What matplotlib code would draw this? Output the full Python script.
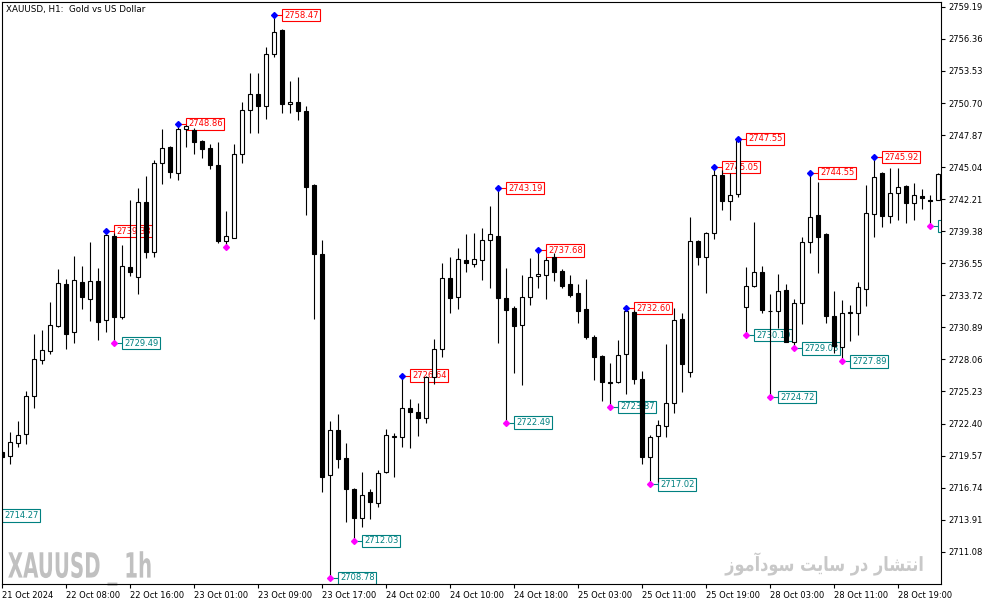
import matplotlib
matplotlib.use("Agg")
import matplotlib.pyplot as plt
import matplotlib.patheffects as pe
from matplotlib.transforms import Affine2D
import numpy as np

# XAUUSD H1 candles (open, high, low, close)
opens = [2719.92, 2719.51, 2720.66, 2721.45, 2724.81, 2727.99, 2728.78, 2730.99, 2734.72, 2730.51,
         2734.90, 2733.43, 2734.99, 2731.52, 2738.96, 2731.84, 2736.22, 2735.31, 2741.94, 2737.52,
         2745.43, 2746.82, 2744.55, 2748.40, 2748.32, 2747.35, 2746.73, 2745.26, 2738.52, 2738.81,
         2746.23, 2750.06, 2751.47, 2750.47, 2755.01, 2757.15, 2750.59, 2750.77, 2750.00, 2743.46,
         2737.35, 2717.83, 2721.80, 2719.33, 2716.62, 2714.03, 2716.33, 2715.36, 2718.10, 2721.23,
         2721.19, 2723.75, 2723.39, 2722.86, 2726.48, 2728.96, 2735.23, 2733.60, 2736.84, 2736.52,
         2736.82, 2738.58, 2738.96, 2733.49, 2732.63, 2731.13, 2733.55, 2735.40, 2735.49, 2737.13,
         2735.87, 2734.70, 2733.90, 2732.49, 2730.02, 2728.37, 2726.07, 2726.04, 2728.51, 2732.22,
         2726.33, 2719.42, 2721.27, 2722.21, 2724.19, 2731.63, 2726.93, 2738.52, 2737.08, 2739.20,
         2744.35, 2742.08, 2742.64, 2732.72, 2734.52, 2735.76, 2732.37, 2732.34, 2734.19, 2729.63,
         2733.02, 2738.46, 2740.82, 2739.14, 2731.90, 2729.19, 2732.16, 2732.19, 2734.25, 2740.88,
         2744.50, 2740.75, 2742.73, 2743.38, 2741.85, 2742.47, 2742.14, 2742.14]
highs = [2720.07, 2721.63, 2722.63, 2725.25, 2730.28, 2730.66, 2733.13, 2736.05, 2735.16, 2737.20,
         2736.31, 2738.43, 2736.14, 2739.38, 2739.25, 2738.17, 2742.14, 2743.23, 2744.26, 2745.67,
         2748.38, 2746.91, 2748.86, 2748.75, 2748.50, 2747.44, 2747.09, 2747.26, 2741.20, 2747.09,
         2750.77, 2753.38, 2753.33, 2755.68, 2758.47, 2757.24, 2752.65, 2752.97, 2750.44, 2743.55,
         2738.61, 2722.63, 2723.24, 2720.68, 2716.71, 2718.12, 2716.65, 2718.30, 2721.89, 2721.54,
         2726.64, 2724.54, 2724.19, 2726.60, 2729.84, 2736.60, 2737.08, 2737.88, 2739.14, 2739.25,
         2739.64, 2741.61, 2743.19, 2736.11, 2732.74, 2735.49, 2736.99, 2737.68, 2737.08, 2737.43,
         2736.05, 2735.49, 2734.72, 2735.19, 2730.22, 2728.45, 2727.72, 2729.78, 2732.60, 2732.40,
         2727.04, 2721.39, 2722.71, 2729.43, 2732.58, 2732.14, 2740.64, 2738.61, 2739.34, 2745.05,
         2744.79, 2744.50, 2747.55, 2736.20, 2740.20, 2736.31, 2733.81, 2735.61, 2734.72, 2733.40,
         2738.90, 2744.55, 2743.70, 2739.23, 2734.11, 2733.28, 2732.84, 2734.93, 2743.46, 2745.92,
         2744.61, 2744.94, 2744.94, 2743.46, 2743.62, 2743.09, 2742.58, 2744.48]
lows = [2719.36, 2718.86, 2720.36, 2720.62, 2723.80, 2727.69, 2728.57, 2730.93, 2729.01, 2729.54,
        2732.54, 2731.48, 2729.80, 2730.46, 2729.49, 2731.61, 2735.43, 2733.81, 2737.02, 2737.13,
        2743.58, 2744.11, 2743.88, 2746.82, 2746.18, 2745.82, 2744.85, 2738.34, 2737.96, 2738.74,
        2745.43, 2748.08, 2748.08, 2749.27, 2754.74, 2749.80, 2749.80, 2749.20, 2740.82, 2731.66,
        2716.38, 2708.78, 2718.50, 2713.73, 2712.03, 2713.24, 2714.00, 2715.06, 2718.01, 2717.71,
        2720.36, 2720.21, 2721.33, 2722.45, 2725.89, 2728.30, 2732.14, 2732.49, 2735.81, 2736.25,
        2735.08, 2734.40, 2729.54, 2722.49, 2726.89, 2725.80, 2732.90, 2734.40, 2733.43, 2734.99,
        2734.37, 2733.58, 2731.31, 2729.84, 2726.25, 2724.42, 2723.87, 2725.98, 2724.98, 2725.87,
        2718.80, 2717.02, 2717.24, 2721.24, 2723.31, 2725.21, 2726.54, 2736.40, 2733.95, 2738.70,
        2741.26, 2740.37, 2742.43, 2730.19, 2734.48, 2732.19, 2724.72, 2730.81, 2729.57, 2729.03,
        2731.16, 2737.49, 2735.72, 2731.25, 2728.60, 2727.89, 2729.72, 2730.22, 2732.81, 2738.90,
        2739.78, 2740.14, 2740.37, 2740.14, 2740.37, 2741.32, 2739.85, 2742.10]
closes = [2719.47, 2720.75, 2721.36, 2724.81, 2728.07, 2728.87, 2731.08, 2734.78, 2730.33, 2735.05,
          2733.60, 2734.99, 2731.39, 2739.05, 2731.84, 2736.29, 2735.78, 2741.94, 2737.52, 2745.38,
          2746.71, 2744.64, 2748.38, 2748.70, 2747.29, 2746.62, 2745.26, 2738.55, 2738.94, 2746.20,
          2750.06, 2751.47, 2750.47, 2755.03, 2756.95, 2750.64, 2750.77, 2750.03, 2743.31, 2737.35,
          2717.71, 2721.80, 2719.30, 2716.65, 2714.03, 2716.07, 2715.50, 2718.01, 2721.36, 2721.30,
          2723.75, 2723.39, 2722.86, 2726.50, 2728.96, 2735.23, 2733.51, 2736.90, 2736.55, 2736.90,
          2738.58, 2739.11, 2733.51, 2732.40, 2731.04, 2733.55, 2735.31, 2735.58, 2736.82, 2735.81,
          2734.57, 2733.75, 2732.37, 2730.02, 2728.30, 2726.04, 2726.02, 2728.43, 2732.34, 2726.33,
          2719.42, 2721.19, 2722.25, 2724.19, 2731.54, 2727.63, 2738.49, 2737.13, 2739.20, 2744.35,
          2742.08, 2742.55, 2747.44, 2734.52, 2735.81, 2732.43, 2732.31, 2734.13, 2729.63, 2733.02,
          2738.40, 2740.61, 2738.90, 2731.92, 2729.25, 2732.14, 2732.22, 2734.43, 2740.97, 2744.20,
          2740.75, 2742.73, 2743.31, 2741.85, 2742.55, 2742.29, 2742.05, 2744.44]

time_labels = ["21 Oct 2024", "22 Oct 08:00", "22 Oct 16:00", "23 Oct 01:00", "23 Oct 09:00",
               "23 Oct 17:00", "24 Oct 02:00", "24 Oct 10:00", "24 Oct 18:00", "25 Oct 03:00",
               "25 Oct 11:00", "25 Oct 19:00", "28 Oct 03:00", "28 Oct 11:00", "28 Oct 19:00"]
time_label_bars = list(range(0, 113, 8))

price_ticks = [2711.08, 2713.91, 2716.74, 2719.57, 2722.40, 2725.23, 2728.06, 2730.89, 2733.72,
               2736.55, 2739.38, 2742.21, 2745.04, 2747.87, 2750.70, 2753.53, 2756.36, 2759.19]

# fractal highs / lows (bar index, price)
up_bars = [13, 22, 34, 50, 62, 67, 78, 89, 92, 101, 109]
up_prices = [2739.38, 2748.86, 2758.47, 2726.64, 2743.19, 2737.68, 2732.60, 2745.05, 2747.55,
             2744.55, 2745.92]
down_bars = [-1, 14, 28, 41, 44, 63, 76, 81, 93, 96, 99, 105, 116]
down_prices = [2714.27, 2729.49, 2737.96, 2708.78, 2712.03, 2722.49, 2723.87, 2717.02, 2730.19,
               2724.72, 2729.03, 2727.89, 2739.85]
down_labelled = [True, True, False, True, True, True, True, True, True, True, True, True, True]


class Squeeze(pe.AbstractPathEffect):
    """squash glyphs horizontally around x0 (display px) - fakes a condensed font"""

    def __init__(self, sx, x0):
        super().__init__()
        self.sx, self.x0 = sx, x0

    def draw_path(self, renderer, gc, tpath, affine, rgbFace=None):
        t = affine + Affine2D().translate(-self.x0, 0).scale(self.sx, 1).translate(self.x0, 0)
        renderer.draw_path(gc, tpath, t, rgbFace)


W, H = 994, 605
fig = plt.figure(figsize=(W / 100, H / 100), dpi=100)
ax = fig.add_axes([2 / W, 1 - 584 / H, 939 / W, 582 / H])
lw = 0.8

x = np.arange(len(opens))
o = np.array(opens)
c = np.array(closes)
up = c >= o

ax.vlines(x, lows, highs, color="black", lw=lw, zorder=3)
ax.bar(x[up], (c - o)[up], bottom=o[up], width=0.5, color="white",
       edgecolor="black", lw=lw, zorder=4)
ax.bar(x[~up], (o - c)[~up], bottom=c[~up], width=0.5, color="black",
       edgecolor="black", lw=lw, zorder=4)


def fractal(i, p, dot_col, txt_col, show=True):
    ax.plot(i, p, marker="D", ms=3.0, color=dot_col, zorder=6)
    if not show:
        return
    ax.plot([i, i + 1.15], [p, p], color=txt_col, lw=lw, zorder=2)
    t = ax.text(i + 1.22, p, f"{p:.2f}", color=txt_col, fontsize=6, va="center", ha="left",
                bbox=dict(boxstyle="square,pad=0.2", fc="white", ec=txt_col, lw=lw), zorder=2)
    t.set_clip_box(ax.bbox)
    t.set_clip_on(True)


for i, p in zip(up_bars, up_prices):
    fractal(i, p, "#0000ff", "#ff0000")
for i, p, s in zip(down_bars, down_prices, down_labelled):
    fractal(i, p, "#ff00ff", "#008080", s)

ax.set_xlim(-0.04, 117.34)
ax.set_ylim(2708.23, 2759.62)

ax.yaxis.tick_right()
ax.set_yticks(price_ticks)
ax.set_yticklabels([f"{v:.2f}" for v in price_ticks])
ax.set_xticks(time_label_bars)
ax.set_xticklabels(time_labels, ha="left")
ax.tick_params(axis="both", labelsize=6, length=3, width=lw, color="black", pad=2)
for s in ax.spines.values():
    s.set_linewidth(lw)

ax.text(0.0045, 0.994, "XAUUSD, H1:  Gold vs US Dollar", transform=ax.transAxes,
        fontsize=6.3, va="top", ha="left")

# watermarks
wx = 0.0062
ax.text(wx, 0.011, "XAUUSD _ 1h", transform=ax.transAxes, fontsize=25,
        fontweight="bold", color="#c0c0c0", va="baseline", ha="left", zorder=1,
        path_effects=[Squeeze(0.57, ax.transAxes.transform((wx, 0))[0])])
persian = ("\uFEAF\uFEEE\uFEE3\uFE81\uFEA9\uFEEE\uFEB3 \uFE96\uFEF3\uFE8E\uFEB3 "
           "\uFEAD\uFEA9 \uFEAD\uFE8E\uFEB8\uFE98\uFEE7\uFE8D")
px_ = 0.983
ax.text(px_, 0.034, persian, transform=ax.transAxes, fontsize=14, fontweight="bold",
        color="#c8c8c8", va="center", ha="right", zorder=1,
        path_effects=[Squeeze(0.83, ax.transAxes.transform((px_, 0))[0])])

fig.savefig("out.png", dpi=100)
